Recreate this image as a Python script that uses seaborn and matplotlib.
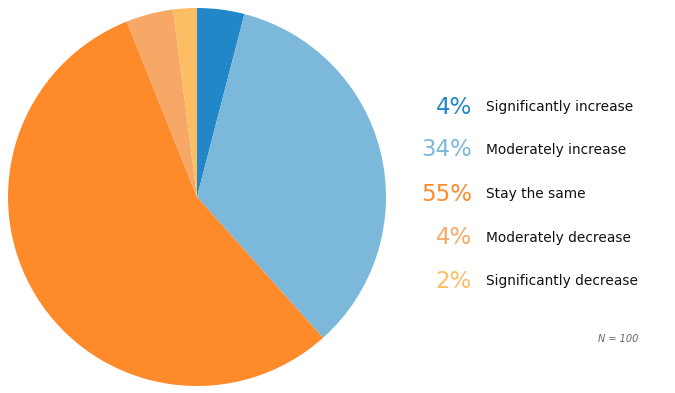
import matplotlib
matplotlib.use("Agg")
import matplotlib.pyplot as plt
import seaborn as sns

labels = ["Significantly increase", "Moderately increase", "Stay the same",
          "Moderately decrease", "Significantly decrease"]
shares = [4, 34, 55, 4, 2]
colors = ["#2187c8", "#7bb8da", "#ff8a2a", "#f8a866", "#fdbe63"]
n_total = 100

sns.set_style("white")
plt.rcParams['font.family'] = ['DejaVu Sans']
pal = sns.color_palette(colors)

fig = plt.figure(figsize=(6.75, 3.93), dpi=100)
ax = fig.add_axes([8 / 675, 7 / 393, 378 / 675, 378 / 393])
ax.pie(shares, colors=pal, startangle=90, counterclock=False,
       wedgeprops=dict(linewidth=0))
ax.set_xlim(-1, 1)
ax.set_ylim(-1, 1)
ax.set_aspect('equal')
ax.axis('off')

ys = [107, 150, 194, 238, 281]
for lab, val, c, y in zip(labels, shares, pal, ys):
    fy = 1 - y / 393
    fig.text(472 / 675, fy, f"{val}%", color=c, fontsize=16.5,
             ha='right', va='center')
    fig.text(486 / 675, fy, lab, color='#111111', fontsize=9.9,
             ha='left', va='center')

fig.text(638 / 675, 1 - 339 / 393, f"N = {n_total}", color='#666666',
         fontsize=7, style='italic', ha='right', va='center')

fig.savefig("out.png", dpi=100)
